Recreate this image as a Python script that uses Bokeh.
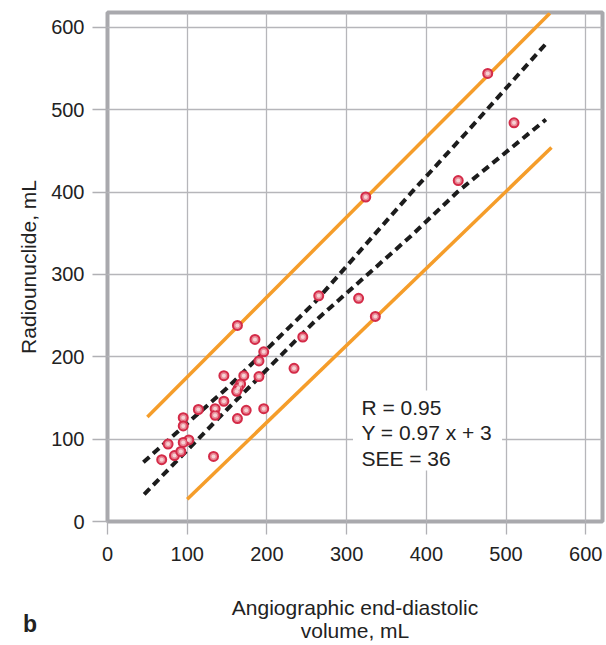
from bokeh.plotting import figure
from bokeh.models import Range1d, Label, FixedTicker, ColumnDataSource
from bokeh.embed import file_html
from bokeh.resources import INLINE

# ---- data ----
angio_x = [163, 185, 245, 196, 190, 234, 146, 171, 190, 167, 164, 162, 146, 114,
           135, 135, 174, 196, 163, 95, 95, 102, 95, 76, 84, 92, 68, 133,
           477, 510, 324, 440, 265, 315, 336]
radio_y = [238, 221, 224, 206, 195, 186, 177, 177, 176, 167, 162, 158, 146, 136,
           137, 129, 135, 137, 125, 126, 116, 99, 96, 94, 80, 85, 75, 79,
           544, 484, 394, 414, 274, 271, 249]

pred_upper_x = [50, 555]
pred_upper_y = [127, 617]
pred_lower_x = [100, 557]
pred_lower_y = [27, 454]

conf_upper_x = [45, 150, 260, 380, 450, 550]
conf_upper_y = [72, 162, 266, 398, 472, 580]
conf_lower_x = [46, 150, 260, 380, 440, 550]
conf_lower_y = [33, 136, 243, 346, 401, 488]

ticks = [0, 100, 200, 300, 400, 500, 600]
stats_lines = ["R = 0.95", "Y = 0.97 x + 3", "SEE = 36"]

FONT = "Liberation Sans"
TXT = "#222222"

p = figure(width=606, height=645, output_backend="svg", toolbar_location=None,
           x_range=Range1d(0, 621), y_range=Range1d(0, 618),
           min_border_left=106, min_border_right=4, min_border_top=12,
           min_border_bottom=124)
p.background_fill_color = "white"
p.border_fill_color = "white"
p.outline_line_color = "#a9a9ad"
p.outline_line_width = 4

for ax in (p.xaxis[0], p.yaxis[0]):
    ax.ticker = FixedTicker(ticks=ticks)
    ax.axis_line_color = None
    ax.major_tick_line_color = "#b0b0b4"
    ax.major_tick_line_width = 1.3
    ax.major_tick_in = 0
    ax.minor_tick_line_color = None
    ax.major_label_text_font = FONT
    ax.major_label_text_font_size = "20px"
    ax.major_label_text_color = TXT
    ax.axis_label_text_font = FONT
    ax.axis_label_text_font_size = "21px"
    ax.axis_label_text_font_style = "normal"
    ax.axis_label_text_color = TXT

p.yaxis.major_tick_out = 15
p.yaxis.major_label_standoff = 8
p.yaxis.axis_label = "Radiounuclide, mL"
p.yaxis.axis_label_standoff = 8
p.xaxis.major_tick_out = 13
p.xaxis.major_label_standoff = 12
p.xaxis.axis_label = "Angiographic end-diastolic\nvolume, mL"
p.xaxis.axis_label_text_line_height = 1.0
p.xaxis.axis_label_standoff = 32

for g in (p.xgrid[0], p.ygrid[0]):
    g.ticker = FixedTicker(ticks=ticks)
    g.grid_line_color = "#b6b6ba"
    g.grid_line_width = 1.3

# white box behind the statistics text
p.quad(left=308, right=495, bottom=62, top=159, fill_color="white", line_color=None)

# prediction limits (orange)
p.line(pred_upper_x, pred_upper_y, line_color="#f59d2a", line_width=3.5)
p.line(pred_lower_x, pred_lower_y, line_color="#f59d2a", line_width=3.5)

# confidence limits (dashed black)
p.line(conf_upper_x, conf_upper_y, line_color="#1c1c1c", line_width=4, line_dash="8 5")
p.line(conf_lower_x, conf_lower_y, line_color="#1c1c1c", line_width=4, line_dash="8 5")

src = ColumnDataSource(dict(x=angio_x, y=radio_y))
p.scatter("x", "y", source=src, size=9, fill_color="#e98896", line_color="#d42b48",
          line_width=2)
p.scatter("x", "y", source=src, size=4, fill_color="#f6d2d4", line_color=None)

stat_y = [139, 108, 77]
for t, yy in zip(stats_lines, stat_y):
    p.add_layout(Label(x=318.5, y=yy, text=t, text_font=FONT, text_font_size="21px",
                       text_color=TXT, text_baseline="middle", text_align="left"))

# panel letter: placed in a side panel so that it is not clipped to the frame
p.add_layout(Label(x=-106, y=-124, text="b",
                   text_font=FONT, text_font_size="23px", text_font_style="bold",
                   text_color=TXT, text_baseline="alphabetic", text_align="left"),
             "left")

open("out.html", "w").write(file_html(p, INLINE))
